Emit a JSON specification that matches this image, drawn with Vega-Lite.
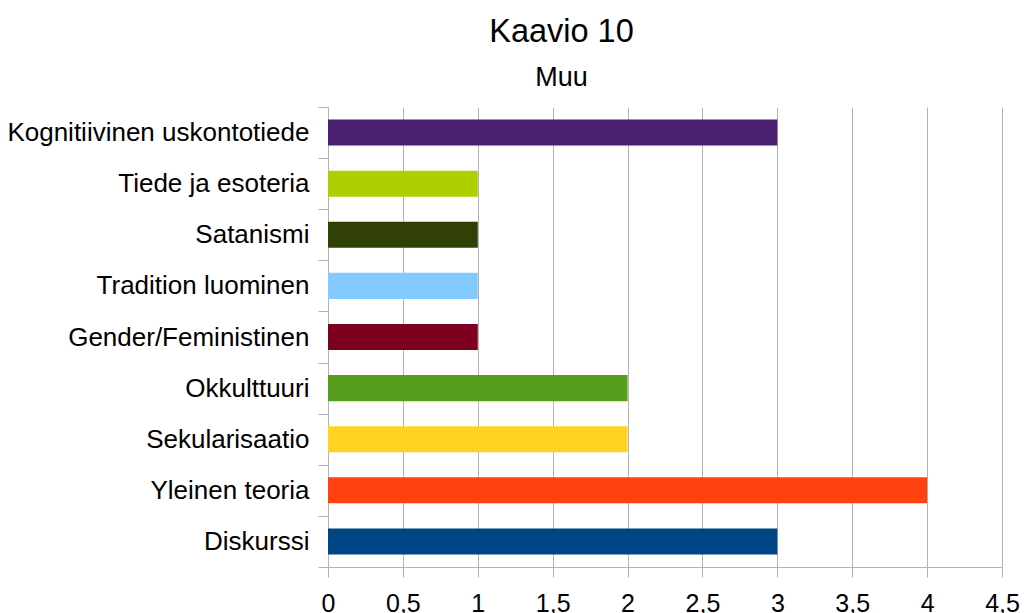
{
  "$schema": "https://vega.github.io/schema/vega-lite/v6.json",
  "autosize": "none",
  "width": 674,
  "height": 460,
  "padding": {"left": 328, "top": 107, "right": 22, "bottom": 46},
  "background": "white",
  "title": {
    "text": "Kaavio 10",
    "subtitle": "Muu",
    "anchor": "middle",
    "frame": "group",
    "dx": -103.5,
    "font": "Liberation Sans",
    "fontSize": 32.5,
    "fontWeight": "normal",
    "color": "black",
    "subtitleFont": "Liberation Sans",
    "subtitleFontSize": 27,
    "subtitleColor": "black",
    "subtitlePadding": 17,
    "offset": 3
  },
  "data": {
    "values": [
      {"kategoria": "Kognitiivinen uskontotiede", "arvo": 3, "vari": "#4b1f6f"},
      {"kategoria": "Tiede ja esoteria", "arvo": 1, "vari": "#aecf00"},
      {"kategoria": "Satanismi", "arvo": 1, "vari": "#314004"},
      {"kategoria": "Tradition luominen", "arvo": 1, "vari": "#83caff"},
      {"kategoria": "Gender/Feministinen", "arvo": 1, "vari": "#7e0021"},
      {"kategoria": "Okkulttuuri", "arvo": 2, "vari": "#579d1c"},
      {"kategoria": "Sekularisaatio", "arvo": 2, "vari": "#ffd320"},
      {"kategoria": "Yleinen teoria", "arvo": 4, "vari": "#ff420e"},
      {"kategoria": "Diskurssi", "arvo": 3, "vari": "#004586"}
    ]
  },
  "mark": {"type": "bar", "height": {"band": 0.51}},
  "encoding": {
    "y": {
      "field": "kategoria",
      "type": "nominal",
      "sort": null,
      "title": null,
      "scale": {"paddingInner": 0, "paddingOuter": 0},
      "axis": {
        "labelFont": "Liberation Sans",
        "labelFontSize": 26,
        "labelColor": "black",
        "labelPadding": 9,
        "labelLimit": 400,
        "tickBand": "extent",
        "tickSize": 10,
        "tickColor": "#b3b3b3",
        "domainColor": "#b3b3b3",
        "grid": false
      }
    },
    "x": {
      "field": "arvo",
      "type": "quantitative",
      "title": null,
      "scale": {"domain": [0, 4.5], "nice": false},
      "axis": {
        "values": [0, 0.5, 1, 1.5, 2, 2.5, 3, 3.5, 4, 4.5],
        "labelExpr": "replace(toString(datum.value), '.', ',')",
        "labelFont": "Liberation Sans",
        "labelFontSize": 25,
        "labelColor": "black",
        "labelPadding": 14,
        "labelFlush": false,
        "labelOverlap": false,
        "tickSize": 10,
        "tickColor": "#b3b3b3",
        "domainColor": "#b3b3b3",
        "grid": true,
        "gridColor": "#b3b3b3"
      }
    },
    "color": {"field": "vari", "type": "nominal", "scale": null, "legend": null}
  },
  "config": {"view": {"stroke": null}}
}
